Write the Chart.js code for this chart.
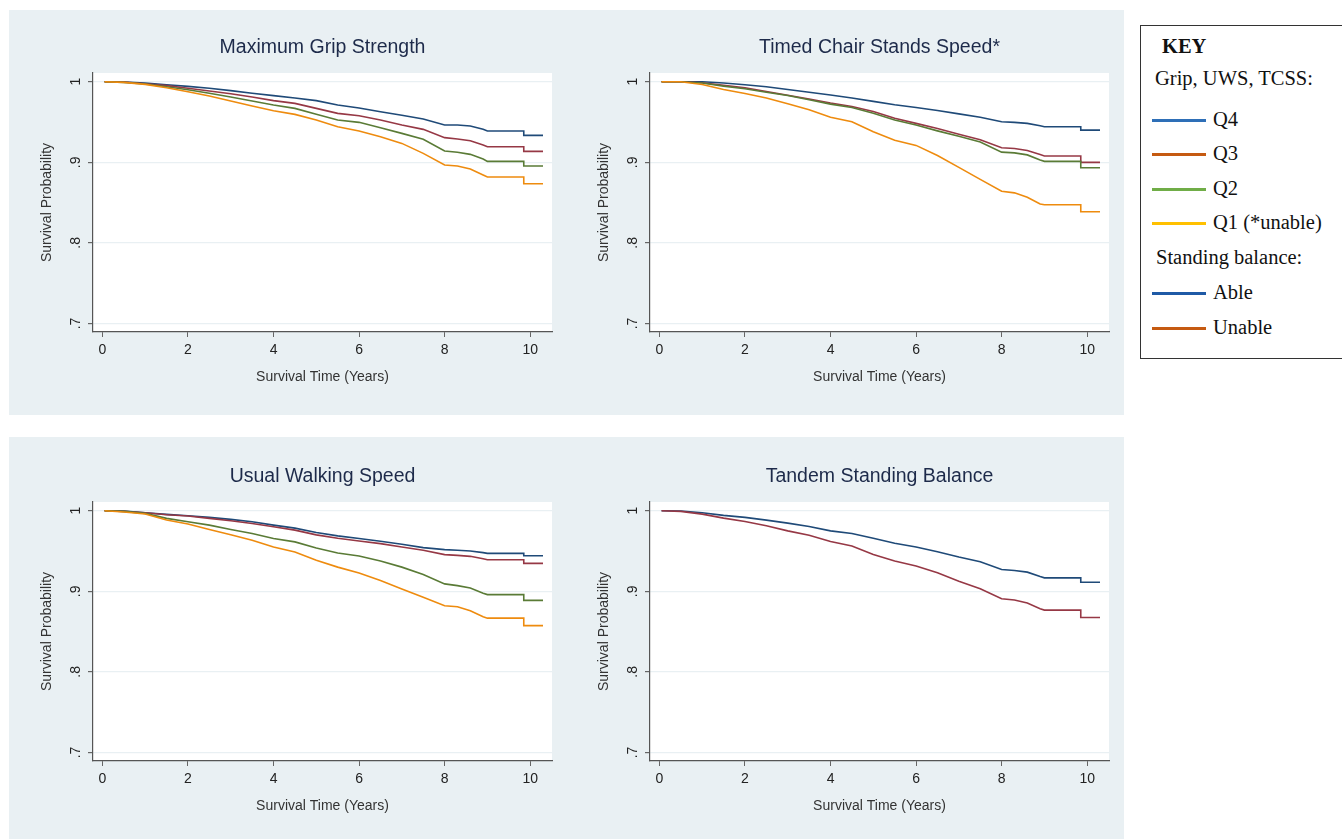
<!DOCTYPE html>
<html>
<head>
<meta charset="utf-8">
<script src="https://cdn.jsdelivr.net/npm/chart.js@4.4.1/dist/chart.umd.min.js"></script>
<style>
  body { margin: 0; background: #fff; width: 1342px; height: 839px; overflow: hidden; position: relative; }
  .band { position: absolute; left: 9px; width: 1115px; background: #e9f0f3; }
  .panel { position: absolute; width: 556px; height: 405px; }
  #key { position: absolute; left: 1140px; top: 25px; width: 220px; height: 332px; border: 1px solid #333;
         font-family: "Liberation Serif", "Times New Roman", serif; font-size: 20.5px; color: #111; background: #fff; }
  #key .row { position: absolute; left: 0; height: 24px; line-height: 24px; white-space: nowrap; }
  #key .sw { position: absolute; left: 11px; width: 54px; height: 3px; }
  #key .lbl { position: absolute; left: 72px; }
</style>
</head>
<body>
<div class="band" style="top:10px;height:405px"></div>
<div class="band" style="top:437px;height:402px"></div>
<div class="panel" style="left:9px;top:10px"><canvas id="grip"></canvas></div>
<div class="panel" style="left:566px;top:10px"><canvas id="tcss"></canvas></div>
<div class="panel" style="left:9px;top:439px"><canvas id="uws"></canvas></div>
<div class="panel" style="left:566px;top:439px"><canvas id="balance"></canvas></div>

<div id="key">
  <div class="row" style="top:8px;left:21px;font-weight:bold">KEY</div>
  <div class="row" style="top:40px;left:14px">Grip, UWS, TCSS:</div>
  <div class="row" style="top:81px"><span class="sw" style="top:12px;background:#2e6fb7"></span><span class="lbl">Q4</span></div>
  <div class="row" style="top:115px"><span class="sw" style="top:12px;background:#c55a11"></span><span class="lbl">Q3</span></div>
  <div class="row" style="top:150px"><span class="sw" style="top:12px;background:#70ad47"></span><span class="lbl">Q2</span></div>
  <div class="row" style="top:184px"><span class="sw" style="top:12px;background:#ffc000"></span><span class="lbl">Q1 (*unable)</span></div>
  <div class="row" style="top:219px;left:15px">Standing balance:</div>
  <div class="row" style="top:254px"><span class="sw" style="top:12px;background:#1f5aa6"></span><span class="lbl">Able</span></div>
  <div class="row" style="top:289px"><span class="sw" style="top:12px;background:#c55a11"></span><span class="lbl">Unable</span></div>
</div>

<script>
// survival time (years) at which each estimate is read; 9.85 appears twice for the last drop
const times = [0.05, 0.5, 1, 1.5, 2, 2.5, 3, 3.5, 4, 4.5, 5, 5.5, 6, 6.5, 7, 7.5, 8, 8.3, 8.6, 8.9, 9, 9.85, 9.85, 10.3];

const xTicks = [0, 2, 4, 6, 8, 10];
const yTicks = [0.7, 0.8, 0.9, 1];
const yTickLabels = ['.7', '.8', '.9', '1'];

// Maximum Grip Strength
const gripQ4 = [1.0, 0.9996, 0.9984, 0.9963, 0.9942, 0.9918, 0.9889, 0.9856, 0.9827, 0.9798, 0.9765, 0.9711, 0.9674, 0.9628, 0.9583, 0.9537, 0.9463, 0.9463, 0.9450, 0.9409, 0.9388, 0.9388, 0.9334, 0.9334];
const gripQ3 = [1.0, 0.9996, 0.9975, 0.9951, 0.9918, 0.9884, 0.9851, 0.9810, 0.9765, 0.9731, 0.9669, 0.9607, 0.9578, 0.9525, 0.9463, 0.9409, 0.9306, 0.9289, 0.9268, 0.9215, 0.9194, 0.9194, 0.9136, 0.9136];
const gripQ2 = [1.0, 0.9992, 0.9971, 0.9938, 0.9901, 0.9856, 0.9810, 0.9760, 0.9711, 0.9669, 0.9595, 0.9525, 0.9496, 0.9430, 0.9359, 0.9285, 0.9140, 0.9124, 0.9099, 0.9041, 0.9012, 0.9012, 0.8954, 0.8954];
const gripQ1 = [1.0, 0.9992, 0.9967, 0.9926, 0.9876, 0.9822, 0.9760, 0.9698, 0.9640, 0.9595, 0.9525, 0.9442, 0.9388, 0.9318, 0.9235, 0.9111, 0.8966, 0.8954, 0.8917, 0.8842, 0.8818, 0.8818, 0.8735, 0.8735];

// Timed Chair Stands Speed
const tcssQ4 = [1.0, 1.0, 1.0, 0.9983, 0.9962, 0.9937, 0.9903, 0.9870, 0.9836, 0.9798, 0.9756, 0.9714, 0.9681, 0.9643, 0.9601, 0.9559, 0.9504, 0.9496, 0.9483, 0.9454, 0.9441, 0.9441, 0.9399, 0.9399];
const tcssQ3 = [1.0, 1.0, 0.9987, 0.9954, 0.9924, 0.9878, 0.9832, 0.9786, 0.9735, 0.9693, 0.9630, 0.9546, 0.9483, 0.9420, 0.9348, 0.9281, 0.9180, 0.9172, 0.9147, 0.9096, 0.9079, 0.9079, 0.8999, 0.8999];
const tcssQ2 = [1.0, 1.0, 0.9983, 0.9945, 0.9912, 0.9870, 0.9828, 0.9777, 0.9722, 0.9680, 0.9609, 0.9525, 0.9462, 0.9390, 0.9323, 0.9252, 0.9126, 0.9117, 0.9092, 0.9029, 0.9012, 0.9012, 0.8932, 0.8932];
const tcssQ1 = [1.0, 1.0, 0.9966, 0.9903, 0.9853, 0.9798, 0.9727, 0.9651, 0.9559, 0.9504, 0.9378, 0.9273, 0.9210, 0.9084, 0.8937, 0.8789, 0.8642, 0.8621, 0.8567, 0.8483, 0.8474, 0.8474, 0.8386, 0.8386];

// Usual Walking Speed
const uwsQ4 = [1.0, 0.9996, 0.9975, 0.9955, 0.9938, 0.9917, 0.9892, 0.9863, 0.9821, 0.9784, 0.9730, 0.9688, 0.9655, 0.9621, 0.9584, 0.9542, 0.9517, 0.9509, 0.9501, 0.9480, 0.9471, 0.9471, 0.9442, 0.9442];
const uwsQ3 = [1.0, 0.9992, 0.9975, 0.9950, 0.9934, 0.9905, 0.9876, 0.9842, 0.9800, 0.9759, 0.9700, 0.9659, 0.9625, 0.9592, 0.9550, 0.9509, 0.9455, 0.9446, 0.9434, 0.9405, 0.9392, 0.9392, 0.9346, 0.9346];
const uwsQ2 = [1.0, 0.9992, 0.9967, 0.9905, 0.9863, 0.9821, 0.9767, 0.9717, 0.9655, 0.9613, 0.9538, 0.9475, 0.9438, 0.9375, 0.9300, 0.9209, 0.9092, 0.9071, 0.9042, 0.8976, 0.8959, 0.8959, 0.8888, 0.8888];
const uwsQ1 = [1.0, 0.9984, 0.9959, 0.9884, 0.9834, 0.9767, 0.9701, 0.9634, 0.9550, 0.9488, 0.9384, 0.9300, 0.9226, 0.9134, 0.9030, 0.8925, 0.8821, 0.8809, 0.8759, 0.8684, 0.8667, 0.8667, 0.8575, 0.8575];

// Tandem Standing Balance
const balanceAble = [1.0, 0.9996, 0.9975, 0.9942, 0.9917, 0.9883, 0.9846, 0.9804, 0.9750, 0.9717, 0.9658, 0.9596, 0.9550, 0.9492, 0.9425, 0.9367, 0.9271, 0.9258, 0.9238, 0.9183, 0.9167, 0.9167, 0.9113, 0.9113];
const balanceUnable = [1.0, 0.9992, 0.9958, 0.9908, 0.9867, 0.9813, 0.9750, 0.9696, 0.9617, 0.9563, 0.9458, 0.9375, 0.9313, 0.9229, 0.9125, 0.9033, 0.8908, 0.8892, 0.8854, 0.8783, 0.8767, 0.8767, 0.8675, 0.8675];

const NAVY = '#1f4a78', MAROON = '#963845', GREEN = '#5a7b36', ORANGE = '#ee8b0e';
const BAND = '#e9f0f3';
const FONT = '"Liberation Sans", Arial, sans-serif';

Chart.defaults.font.family = FONT;
Chart.defaults.animation = false;

// white plot region like the Stata graph, and the title centred over the plot region
const stataLook = {
  id: 'stataLook',
  beforeDraw(chart) {
    const a = chart.chartArea, ctx = chart.ctx;
    ctx.save();
    ctx.fillStyle = '#fff';
    ctx.fillRect(a.left, a.top, a.right - a.left, a.bottom - a.top);
    ctx.restore();
  },
  afterDraw(chart, args, opts) {
    const a = chart.chartArea, ctx = chart.ctx;
    ctx.save();
    ctx.font = '19.5px ' + FONT;
    ctx.fillStyle = '#1d2a4a';
    ctx.textAlign = 'center';
    ctx.textBaseline = 'middle';
    ctx.fillText(opts.text, (a.left + a.right) / 2, 38);
    ctx.restore();
  }
};

function makePanel(id, title, series) {
  const c = document.getElementById(id);
  c.width = 556; c.height = 405;
  c.style.width = '556px'; c.style.height = '405px';
  return new Chart(c, {
    type: 'line',
    data: {
      datasets: series.map(s => ({
        label: s.label,
        data: times.map((t, i) => ({ x: t, y: s.values[i] })),
        borderColor: s.color,
        borderWidth: 1.6,
        pointRadius: 0,
        tension: 0,
        fill: false
      }))
    },
    options: {
      responsive: false,
      maintainAspectRatio: false,
      layout: { padding: { left: 0, right: 13, top: 63, bottom: 0 } },
      plugins: {
        legend: { display: false },
        tooltip: { enabled: false },
        title: { display: false },
        stataLook: { text: title }
      },
      scales: {
        x: {
          type: 'linear',
          min: -0.22,
          max: 10.51,
          afterBuildTicks: s => { s.ticks = xTicks.map(v => ({ value: v })); },
          afterFit: s => { s.height = 83; },
          ticks: { color: '#222', font: { size: 14 }, padding: 4.5, maxRotation: 0 },
          grid: { drawOnChartArea: false, drawTicks: true, tickLength: 5, color: '#666' },
          border: { color: '#555', width: 1.2 },
          title: { display: true, text: 'Survival Time (Years)', color: '#333', font: { size: 14 }, padding: { top: 0, bottom: 29.5 } }
        },
        y: {
          type: 'linear',
          min: 0.6895,
          max: 1.0108,
          afterBuildTicks: s => { s.ticks = yTicks.map(v => ({ value: v })); },
          afterFit: s => { s.width = 84; },
          ticks: {
            color: '#222', font: { size: 14 }, padding: 6, minRotation: 90, maxRotation: 90, crossAlign: 'center',
            callback: (v, i) => yTickLabels[i]
          },
          grid: { color: BAND, lineWidth: 1.2, drawTicks: true, tickLength: 5, tickColor: '#666' },
          border: { color: '#555', width: 1.2 },
          title: { display: true, text: 'Survival Probability', color: '#333', font: { size: 14 }, padding: { top: 29.5, bottom: 0 } }
        }
      }
    },
    plugins: [stataLook]
  });
}

makePanel('grip', 'Maximum Grip Strength', [
  { label: 'Q1', values: gripQ1, color: ORANGE },
  { label: 'Q2', values: gripQ2, color: GREEN },
  { label: 'Q3', values: gripQ3, color: MAROON },
  { label: 'Q4', values: gripQ4, color: NAVY }
]);
makePanel('tcss', 'Timed Chair Stands Speed*', [
  { label: 'Q1', values: tcssQ1, color: ORANGE },
  { label: 'Q2', values: tcssQ2, color: GREEN },
  { label: 'Q3', values: tcssQ3, color: MAROON },
  { label: 'Q4', values: tcssQ4, color: NAVY }
]);
makePanel('uws', 'Usual Walking Speed', [
  { label: 'Q1', values: uwsQ1, color: ORANGE },
  { label: 'Q2', values: uwsQ2, color: GREEN },
  { label: 'Q3', values: uwsQ3, color: MAROON },
  { label: 'Q4', values: uwsQ4, color: NAVY }
]);
makePanel('balance', 'Tandem Standing Balance', [
  { label: 'Unable', values: balanceUnable, color: MAROON },
  { label: 'Able', values: balanceAble, color: NAVY }
]);
</script>
</body>
</html>
